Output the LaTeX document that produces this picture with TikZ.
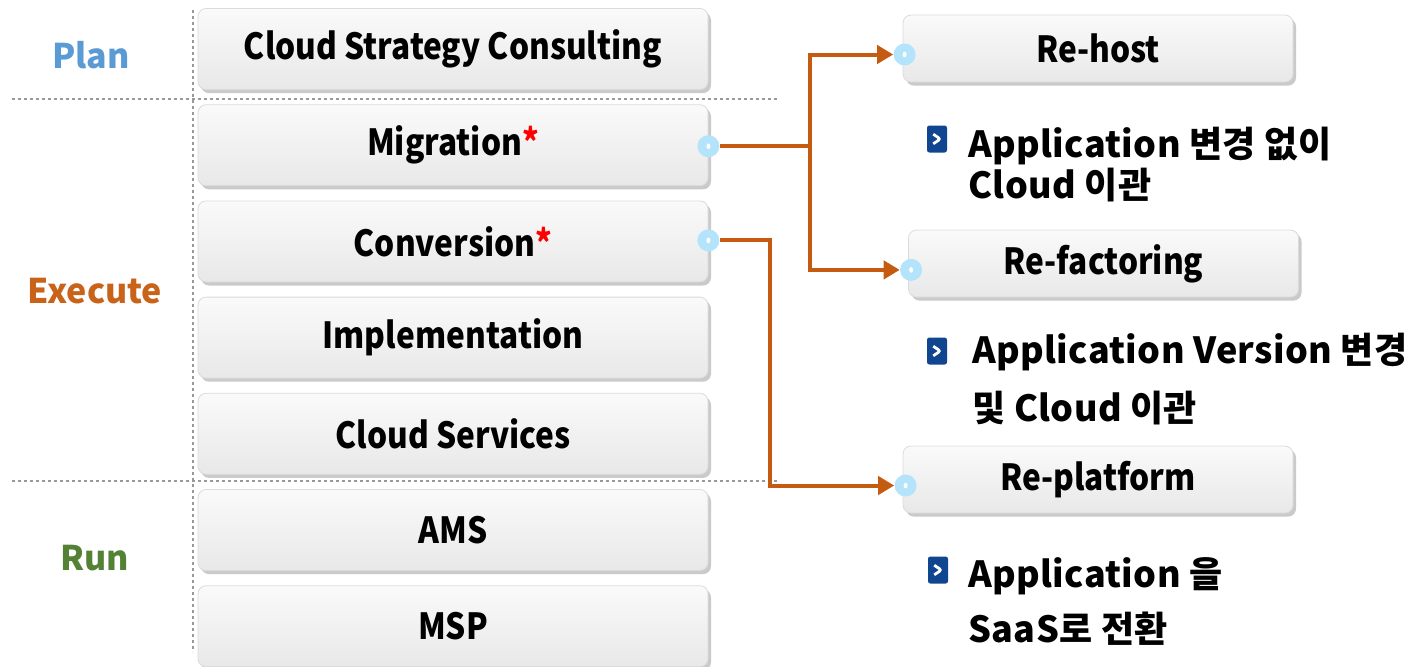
\documentclass[tikz,border=0pt]{standalone}
\usepackage{fontspec}
\setmainfont{Noto Sans CJK KR}
\newfontfamily\boxfont{Noto Sans CJK KR}[FakeStretch=0.88]
\newfontfamily\notefont{Noto Sans CJK KR}[LetterSpace=1]
\usepackage{tikz}
\usetikzlibrary{positioning,calc,shadows,arrows.meta}

\definecolor{planblue}{HTML}{5B9BD5}
\definecolor{execorange}{HTML}{C9631A}
\definecolor{rungreen}{HTML}{548235}
\definecolor{linkbrown}{HTML}{C55A11}
\definecolor{portblue}{HTML}{B4E4FB}
\definecolor{bulletblue}{HTML}{10468F}

\begin{document}
\begin{tikzpicture}[x=0.5pt, y=-0.5pt,
    stage/.style={rectangle, rounded corners=4pt, draw=black!14, top color=black!2, bottom color=black!9,
        drop shadow={shadow xshift=1.5pt, shadow yshift=-1.8pt, opacity=0.35, fill=black!60},
        minimum width=255pt, minimum height=40.5pt, font=\boxfont\bfseries\fontsize{18}{21}\selectfont},
    route/.style={stage, minimum width=195pt, minimum height=33.5pt},
    phase/.style={font=\bfseries\fontsize{17}{20}\selectfont},
    port/.style={circle, fill=portblue, minimum size=11pt, inner sep=0pt,
        path picture={\fill[white] (path picture bounding box.center) ellipse (1pt and 1.4pt);}},
    link/.style={draw=linkbrown, line width=2pt},
    arrowlink/.style={link, -{Triangle[length=8pt, width=9pt]}},
    divider/.style={draw=black!40, line width=1.4pt, dash pattern=on 1.4pt off 1.6pt},
    bulletbox/.style={rectangle, rounded corners=1.2pt, fill=bulletblue, minimum width=10pt, minimum height=13.5pt, inner sep=0pt,
        path picture={\draw[white, line width=1.4pt] ([xshift=-1.9pt, yshift=2.4pt]path picture bounding box.center) -- ++(3.6pt,-2.4pt) -- ++(-3.6pt,-2.4pt);}},
    note/.style={anchor=base west, inner sep=0pt, font=\notefont\bfseries\fontsize{18}{21}\selectfont}]
    \useasboundingbox (0,0) rectangle (1407,666);

    % Phase dividers
    \draw [divider] (12,99) -- (778,99);
    \draw [divider] (12,481) -- (778,481);
    \draw [divider] (193,10) -- (193,652);

    % Phase labels
    \node (plan) [phase, text=planblue] at (91,55) {Plan};
    \node (execute) [phase, text=execorange] at (95,291) {Execute};
    \node (run) [phase, text=rungreen] at (95,558) {Run};

    % Service stack
    \node (csc) [stage] at (453,49) {Cloud Strategy Consulting};
    \node (mig) [stage, below=7.2pt of csc] {Migration\textcolor{red}{*}};
    \node (conv) [stage, below=7.2pt of mig] {Conversion\textcolor{red}{*}};
    \node (impl) [stage, below=7.2pt of conv] {Implementation};
    \node (cs) [stage, below=7.2pt of impl] {Cloud Services};
    \node (ams) [stage, below=7.2pt of cs] {AMS};
    \node (msp) [stage, below=7.2pt of ams] {MSP};

    % Migration options
    \node (rehost) [route] at (1098,48.5) {Re-host};
    \node (refac) [route] at (1103.5,263.5) {Re-factoring};
    \node (replat) [route] at (1098,479.5) {Re-platform};

    % Ports
    \node (migport) [port] at ([yshift=-0.5pt]mig.east) {};
    \node (convport) [port] at ([yshift=0.5pt]conv.east) {};
    \node (hostport) [port] at ([xshift=1pt, yshift=-3pt]rehost.west) {};
    \node (facport) [port] at ([xshift=1.5pt, yshift=-3.2pt]refac.west) {};
    \node (platport) [port] at ([xshift=1.5pt, yshift=-3pt]replat.west) {};

    % Connectors
    \coordinate (migsplit) at (migport -| 810,0);
    \coordinate (convbend) at (convport -| 770,0);
    \draw [link] (migport) -- (migsplit);
    \draw [arrowlink] (migsplit) |- (hostport);
    \draw [arrowlink] (migsplit) |- (facport);
    \draw [arrowlink] (convport) -- (convbend) |- (platport);

    % Descriptions
    \node (b1) [bulletbox] at (937,139) {};
    \node (note1a) [note] at (968,157) {Application 변경 없이};
    \node (note1b) [note] at (968,198) {Cloud 이관};
    \node (b2) [bulletbox] at (937,351) {};
    \node (note2a) [note] at (972,363) {Application Version 변경};
    \node (note2b) [note] at (972,421) {및 Cloud 이관};
    \node (b3) [bulletbox] at (938,570) {};
    \node (note3a) [note] at (968,587) {Application 을};
    \node (note3b) [note] at (968,642) {SaaS로 전환};
\end{tikzpicture}
\end{document}
